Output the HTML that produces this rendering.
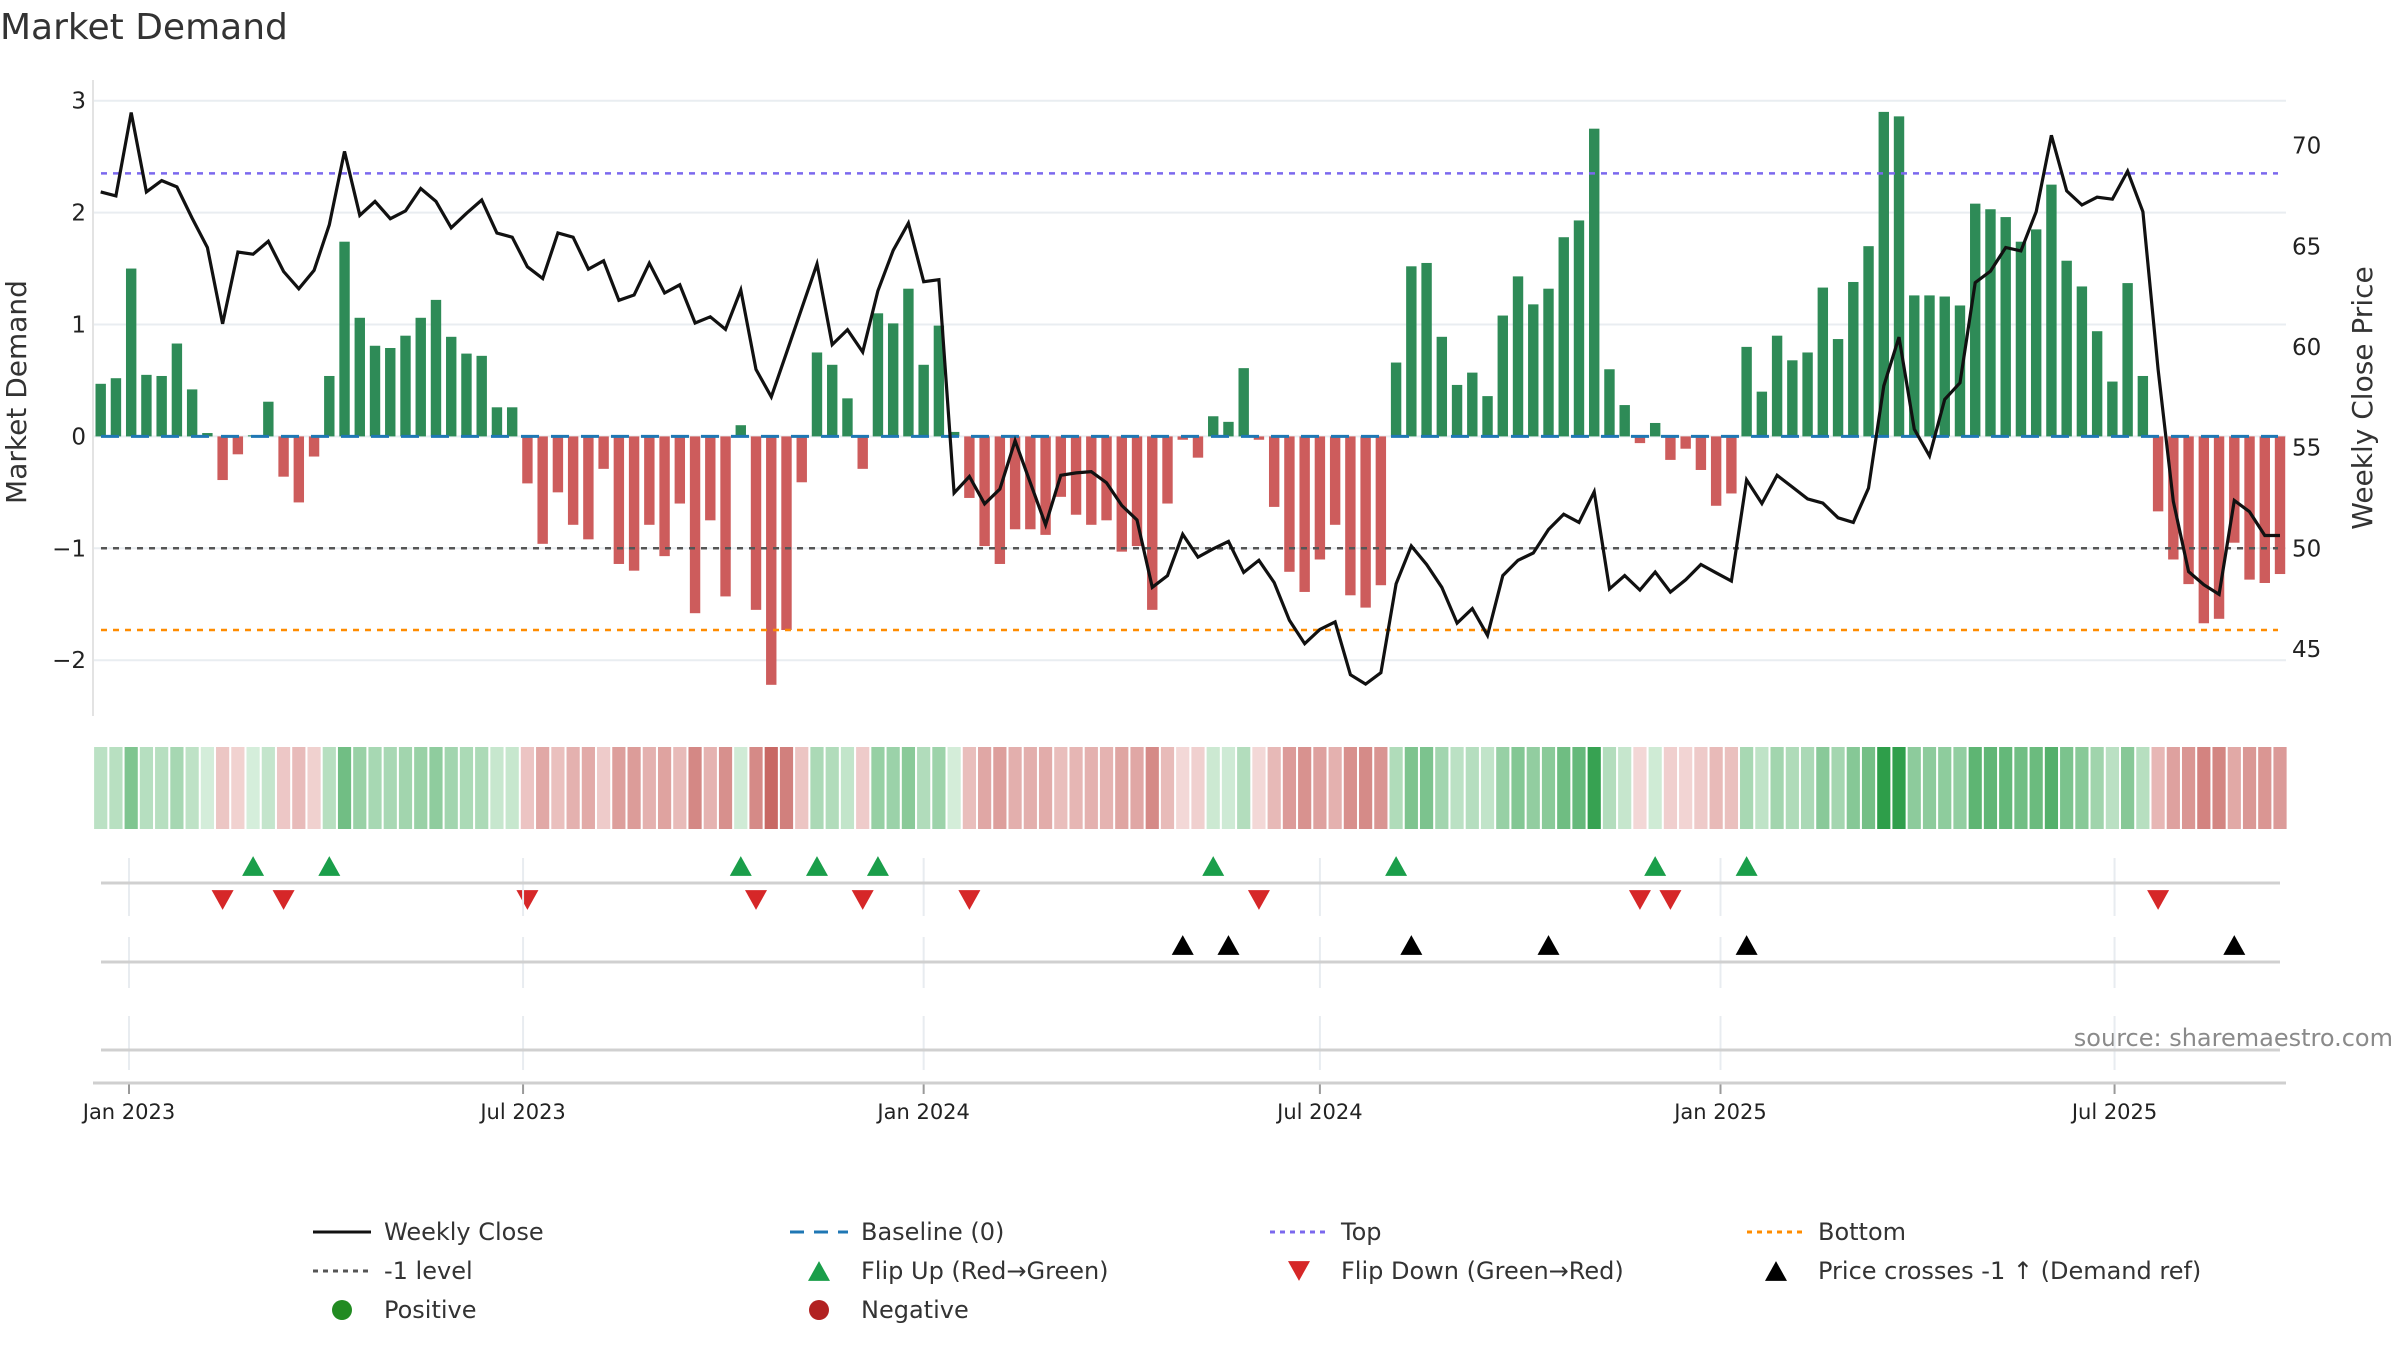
<!DOCTYPE html>
<html><head><meta charset="utf-8"><title>Market Demand</title>
<style>
html,body{margin:0;padding:0;background:#fff;}
svg{display:block;font-family:"DejaVu Sans","Liberation Sans",sans-serif;}
</style></head>
<body>
<svg id="chart" xmlns="http://www.w3.org/2000/svg" width="2400" height="1350" viewBox="0 0 2400 1350">
<rect x="0" y="0" width="2400" height="1350" fill="#fff"/>
<text x="0" y="39" font-size="36" fill="#333">Market Demand</text>
<text transform="translate(26,392) rotate(-90)" text-anchor="middle" font-size="28" fill="#333">Market Demand</text>
<text transform="translate(2372,398) rotate(-90)" text-anchor="middle" font-size="28" fill="#333">Weekly Close Price</text>
<text x="2393" y="1046" text-anchor="end" font-size="24" fill="#8a8a8a">source: sharemaestro.com</text>
<g id="grid"></g>
<g id="bars"></g>
<g id="refs"></g>
<g id="price"></g>
<g id="heat"></g>
<g id="flips"></g>
<g id="cross"></g>
<g id="axes"></g>
<g id="legend"></g>
</svg>
<script>
const demand = [0.47,0.52,1.50,0.55,0.54,0.83,0.42,0.03,-0.39,-0.16,
0.01,0.31,-0.36,-0.59,-0.18,0.54,1.74,1.06,0.81,0.79,
0.90,1.06,1.22,0.89,0.74,0.72,0.26,0.26,-0.42,-0.96,
-0.50,-0.79,-0.92,-0.29,-1.14,-1.20,-0.79,-1.07,-0.60,-1.58,
-0.75,-1.43,0.10,-1.55,-2.22,-1.73,-0.41,0.75,0.64,0.34,
-0.29,1.10,1.01,1.32,0.64,0.99,0.04,-0.55,-0.98,-1.14,
-0.83,-0.83,-0.88,-0.54,-0.70,-0.79,-0.75,-1.03,-0.98,-1.55,
-0.60,-0.03,-0.19,0.18,0.13,0.61,-0.03,-0.63,-1.21,-1.39,
-1.10,-0.79,-1.42,-1.53,-1.33,0.66,1.52,1.55,0.89,0.46,
0.57,0.36,1.08,1.43,1.18,1.32,1.78,1.93,2.75,0.60,
0.28,-0.06,0.12,-0.21,-0.11,-0.30,-0.62,-0.51,0.80,0.40,
0.90,0.68,0.75,1.33,0.87,1.38,1.70,2.90,2.86,1.26,
1.26,1.25,1.17,2.08,2.03,1.96,1.74,1.85,2.25,1.57,
1.34,0.94,0.49,1.37,0.54,-0.67,-1.10,-1.32,-1.67,-1.63,
-0.95,-1.28,-1.31,-1.23];
const closePrice = [67.70,67.50,71.64,67.70,68.26,67.95,66.40,64.94,61.15,64.71,
64.61,65.25,63.75,62.89,63.81,66.07,69.71,66.54,67.23,66.37,
66.76,67.87,67.23,65.92,66.64,67.30,65.66,65.45,63.98,63.40,
65.66,65.45,63.87,64.28,62.32,62.58,64.16,62.68,63.09,61.19,
61.50,60.88,62.83,58.89,57.52,59.71,61.91,64.12,60.12,60.86,
59.75,62.79,64.80,66.15,63.24,63.34,52.75,53.57,52.21,52.95,
55.35,53.26,51.17,53.63,53.75,53.81,53.26,52.13,51.41,48.07,
48.65,50.70,49.57,49.98,50.35,48.81,49.41,48.30,46.43,45.27,
45.98,46.35,43.73,43.26,43.83,48.24,50.12,49.20,48.07,46.29,
47.01,45.68,48.65,49.41,49.77,50.94,51.70,51.29,52.81,47.99,
48.65,47.93,48.83,47.83,48.44,49.20,48.79,48.38,53.40,52.23,
53.63,53.05,52.46,52.25,51.52,51.29,52.99,58.07,60.49,55.92,
54.59,57.40,58.22,63.20,63.77,64.94,64.77,66.72,70.51,67.75,
67.05,67.44,67.34,68.73,66.72,58.89,52.34,48.85,48.20,47.72,
52.38,51.82,50.64,50.64];
const flipUpIdx = [10,15,42,47,51,73,85,102,108];
const flipDownIdx = [8,12,28,43,50,57,76,101,103,135];
const priceCrossIdx = [71,74,86,95,108,140];
const leftTicks = [3,2,1,0,-1,-2];
const leftTickLabels = ["3","2","1","0","\u22121","\u22122"];
const rightTicks = [70,65,60,55,50,45];
const dateTickLabels = ["Jan 2023","Jul 2023","Jan 2024","Jul 2024","Jan 2025","Jul 2025"];
const dateTickDays = [13,194,378,560,744,925];
const topLevel = 2.35, minusLevel = -1, bottomLevel = -1.73;

const NS="http://www.w3.org/2000/svg";
function mk(tag, attrs, parent){const e=document.createElementNS(NS,tag);for(const k in attrs)e.setAttribute(k,attrs[k]);parent.appendChild(e);return e;}
const X0=100.7, STEP=15.24, PL=93, PR=2286;
function xAt(i){return X0+i*STEP;}
function xDay(d){return X0+d*STEP/7;}
function yD(v){return 436.4-111.9*v;}
function yP(p){return 145.6+(70-p)*20.14;}

const grid=document.getElementById('grid');
leftTicks.forEach(v=>{
  const l=mk('line',{x1:PL,x2:PR,y1:yD(v),y2:yD(v),stroke:'#e9edf1','stroke-width':2},grid);
  
  
});
const bars=document.getElementById('bars');
demand.forEach((v,i)=>{
  const y0=yD(0), y1=yD(v);
  const r=mk('rect',{x:xAt(i)-5.2,width:10.4,y:Math.min(y0,y1),height:Math.max(1,Math.abs(y1-y0)),fill:v>=0?'#2e8b57':'#cd5c5c'},bars);
  
  
});
const refs=document.getElementById('refs');
function hline(v,color,dash,name,w){const l=mk('line',{x1:PL+8,x2:PR-8,y1:yD(v),y2:yD(v),stroke:color,'stroke-width':w||2.5,'stroke-dasharray':dash},refs);}
hline(0,'#1f77b4','18 12','baseline-zero-line',3);
hline(topLevel,'#7b68ee','6 6','top-level-line');
hline(minusLevel,'#555','6 6','minus-one-level-line');
hline(bottomLevel,'#ff8c00','6 6','bottom-level-line');
const pg=document.getElementById('price');
let d='';closePrice.forEach((p,i)=>{d+=(i?'L':'M')+xAt(i).toFixed(1)+' '+yP(p).toFixed(1);});
const pl=mk('path',{d:d,fill:'none',stroke:'#111','stroke-width':3.2,'stroke-linejoin':'miter'},pg);


const heat=document.getElementById('heat');
function mix(a,b,t){return 'rgb('+a.map((c,k)=>Math.round(c+(b[k]-c)*t)).join(',')+')';}
demand.forEach((v,i)=>{
  let c;
  if(v>=0){c=mix([214,238,219],[46,158,74],Math.min(1,v/2.9));}
  else{c=mix([244,218,217],[200,104,100],Math.min(1,-v/2.2));}
  const r=mk('rect',{x:xAt(i)-6.6,width:13.2,y:747,height:82,fill:c},heat);
  
  
});
const axes=document.getElementById('axes');
dateTickDays.forEach((dd,k)=>{
  const x=xDay(dd);
  [[858,916],[937,988],[1016,1070]].forEach(seg=>{
    const g=mk('line',{x1:x,x2:x,y1:seg[0],y2:seg[1],stroke:'#e8ecf0','stroke-width':2},axes);
    
    
  });
  const t=mk('line',{x1:x,x2:x,y1:1083,y2:1094,stroke:'#999','stroke-width':2},axes);
  
  
  const tx=mk('text',{x:x,y:1119,'text-anchor':'middle','font-size':21,fill:'#222'},axes);
  tx.textContent=dateTickLabels[k];
  
  
});
[[883],[962],[1050]].forEach(a=>{
  const l=mk('line',{x1:101,x2:2280,y1:a[0],y2:a[0],stroke:'#d0d0d0','stroke-width':3},axes);
  
  
});
const xa=mk('line',{x1:PL,x2:PR,y1:1083,y2:1083,stroke:'#cfcfcf','stroke-width':3},axes);


const ya=mk('line',{x1:PL,x2:PL,y1:80,y2:716,stroke:'#e3e3e3','stroke-width':2},axes);


leftTicks.forEach((v,k)=>{
  const t=mk('text',{x:86,y:yD(v)+8,'text-anchor':'end','font-size':23,fill:'#222'},axes);
  t.textContent=leftTickLabels[k];
  
  
});
rightTicks.forEach(p=>{
  const t=mk('text',{x:2292,y:yP(p)+8,'font-size':23,fill:'#222'},axes);
  t.textContent=String(p);
  
  
});
function tri(cx,cy,s,up,color,parent){
  const h=s*0.9;
  const pts=up?[[cx,cy-h/2],[cx-s/2,cy+h/2],[cx+s/2,cy+h/2]]:[[cx,cy+h/2],[cx-s/2,cy-h/2],[cx+s/2,cy-h/2]];
  return mk('polygon',{points:pts.map(p=>p.join(',')).join(' '),fill:color},parent);
}
const fl=document.getElementById('flips');
flipUpIdx.forEach(i=>{const m=tri(xAt(i),866,22,true,'#1a9e4a',fl);
  
  });
flipDownIdx.forEach(i=>{const m=tri(xAt(i),900,22,false,'#d62728',fl);
  
  });
const cr=document.getElementById('cross');
priceCrossIdx.forEach(i=>{const m=tri(xAt(i),945,22,true,'#000',cr);
  
  });
const lg=document.getElementById('legend');
const legendItems=[
 {c:0,r:0,type:'line',color:'#111',dash:'',label:'Weekly Close',name:'legend-weekly-close'},
 {c:1,r:0,type:'line',color:'#1f77b4',dash:'14 10',label:'Baseline (0)',name:'legend-baseline'},
 {c:2,r:0,type:'line',color:'#7b68ee',dash:'5 5',label:'Top',name:'legend-top'},
 {c:3,r:0,type:'line',color:'#ff8c00',dash:'5 5',label:'Bottom',name:'legend-bottom'},
 {c:0,r:1,type:'line',color:'#555',dash:'5 5',label:'-1 level',name:'legend-minus-one'},
 {c:1,r:1,type:'up',color:'#1a9e4a',label:'Flip Up (Red\u2192Green)',name:'legend-flip-up'},
 {c:2,r:1,type:'down',color:'#d62728',label:'Flip Down (Green\u2192Red)',name:'legend-flip-down'},
 {c:3,r:1,type:'up',color:'#000',label:'Price crosses -1 \u2191 (Demand ref)',name:'legend-price-cross'},
 {c:0,r:2,type:'dot',color:'#228b22',label:'Positive',name:'legend-positive'},
 {c:1,r:2,type:'dot',color:'#b22222',label:'Negative',name:'legend-negative'}
];
const colX=[313,790,1270,1747], rowY=[1232,1271,1310];
legendItems.forEach(it=>{
  const g=mk('g',{},lg);
  
  
  const x=colX[it.c], y=rowY[it.r];
  if(it.type==='line'){mk('line',{x1:x,x2:x+58,y1:y,y2:y,stroke:it.color,'stroke-width':3,'stroke-dasharray':it.dash},g);}
  else if(it.type==='dot'){mk('circle',{cx:x+29,cy:y,r:10,fill:it.color},g);}
  else{tri(x+29,y,22,it.type==='up',it.color,g);}
  const t=mk('text',{x:x+71,y:y+8,'font-size':24,fill:'#333'},g);
  t.textContent=it.label;
});
</script>
</body></html>
